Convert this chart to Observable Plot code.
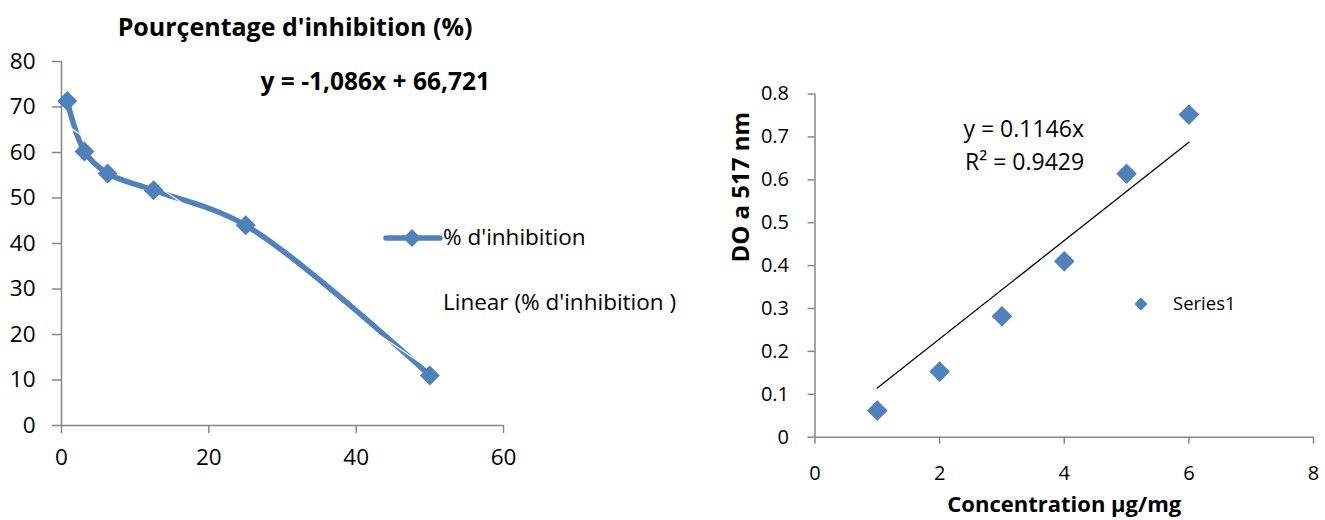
<!DOCTYPE html>
<html><head><meta charset="utf-8">
<script src="https://cdn.jsdelivr.net/npm/d3@7"></script>
<script src="https://cdn.jsdelivr.net/npm/@observablehq/plot@0.6"></script>
<style>
body{margin:0;background:#fff;font-family:"Open Sans",sans-serif;}
#wrap{position:relative;width:1325px;height:520px;overflow:hidden;background:#fff;}
.abs{position:absolute;white-space:nowrap;line-height:1;color:#000;}
</style></head>
<body><div id="wrap"></div>
<script>
// ---- Left chart: % inhibition ----
const inhibConc = [0.78, 3.125, 6.25, 12.5, 25, 50];
const inhibPct  = [71.3, 60.2, 55.4, 51.7, 44.0, 11.0];
const inhibXTicks = [0, 20, 40, 60];
const inhibYTicks = [0, 10, 20, 30, 40, 50, 60, 70, 80];
const inhibTitle = "Pourçentage d'inhibition (%)";
const inhibEquation = "y = -1,086x + 66,721";
const inhibSlope = -1.086, inhibIntercept = 66.721;
const inhibLegend = ["% d'inhibition", "Linear (% d'inhibition )"];

// ---- Right chart: DO at 517 nm ----
const doConc = [1, 2, 3, 4, 5, 6];
const doAbs  = [0.062, 0.153, 0.282, 0.410, 0.614, 0.752];
const doXTicks = [0, 2, 4, 6, 8];
const doYTicks = [0, 0.1, 0.2, 0.3, 0.4, 0.5, 0.6, 0.7, 0.8];
const doSlope = 0.1146;
const doEqLines = ["y = 0.1146x", "R² = 0.9429"];
const doXLabel = "Concentration µg/mg";
const doYLabel = "DO a 517 nm";
const doLegend = "Series1";

const blue = "#4f81bd", axisGray = "#868686";
const font = "'Open Sans', sans-serif";
const wrap = document.getElementById("wrap");

const inhib = inhibConc.map((x, i) => ({x, y: inhibPct[i]}));
const inhibTrend = [inhibConc[0], inhibConc[inhibConc.length-1]].map(x => ({x, y: inhibSlope*x + inhibIntercept}));

const left = Plot.plot({
  width: 520, height: 520,
  marginLeft: 61, marginRight: 17, marginTop: 61, marginBottom: 95,
  style: {fontFamily: font, fontSize: "22.5px", background: "transparent", color: "#000", overflow: "visible"},
  x: {domain: [0, 60]},
  y: {domain: [0, 80]},
  marks: [
    Plot.axisX({ticks: inhibXTicks, tickSize: 8, tickPadding: 16, label: null, stroke: axisGray, strokeWidth: 1.5, fill: "#000"}),
    Plot.axisY({ticks: inhibYTicks, tickSize: 9, tickPadding: 17, label: null, stroke: axisGray, strokeWidth: 1.5, fill: "#000"}),
    Plot.ruleX([0], {stroke: axisGray, strokeWidth: 1.5}),
    Plot.ruleY([0], {stroke: axisGray, strokeWidth: 1.5}),
    Plot.line(inhib, {x: "x", y: "y", stroke: blue, strokeWidth: 5.5, curve: "catmull-rom"}),
    Plot.line(inhibTrend, {x: "x", y: "y", stroke: "#fff", strokeWidth: 1.2}),
    Plot.dot(inhib, {x: "x", y: "y", symbol: "diamond2", r: 9, fill: blue, stroke: "none"}),
    Plot.text([inhibEquation], {frameAnchor: "top-left", textAnchor: "start", dx: 199, dy: 11, fontWeight: "bold", fontSize: 24.5})
  ]
});
left.style.position = "absolute"; left.style.left = "0px"; left.style.top = "0px";
wrap.appendChild(left);

const doData = doConc.map((x, i) => ({x, y: doAbs[i]}));
const doTrend = [doConc[0], doConc[doConc.length-1]].map(x => ({x, y: doSlope*x}));

const right = Plot.plot({
  width: 625, height: 520,
  marginLeft: 114.5, marginRight: 12, marginTop: 93.5, marginBottom: 83.3,
  style: {fontFamily: font, fontSize: "20px", background: "transparent", color: "#000", overflow: "visible"},
  x: {domain: [0, 8]},
  y: {domain: [0, 0.8]},
  marks: [
    Plot.axisX({ticks: doXTicks, tickSize: 7, tickPadding: 22, label: null, stroke: axisGray, strokeWidth: 1.5, fill: "#000"}),
    Plot.axisY({ticks: doYTicks, tickSize: 7, tickPadding: 19, label: null, tickFormat: d => d === 0 ? "0" : d3.format(".1f")(d), stroke: axisGray, strokeWidth: 1.5, fill: "#000"}),
    Plot.ruleX([0], {stroke: axisGray, strokeWidth: 1.5}),
    Plot.ruleY([0], {stroke: axisGray, strokeWidth: 1.5}),
    Plot.line(doTrend, {x: "x", y: "y", stroke: "#000", strokeWidth: 1.3}),
    Plot.dot(doData, {x: "x", y: "y", symbol: "diamond2", r: 9.3, fill: blue, stroke: "none"}),
    Plot.text([doEqLines[0]], {frameAnchor: "top-left", textAnchor: "start", lineAnchor: "bottom", dx: 148.5, dy: 42.5, fontSize: 23}),
    Plot.text([doEqLines[1]], {frameAnchor: "top-left", textAnchor: "start", lineAnchor: "bottom", dx: 150, dy: 75.5, fontSize: 23}),
    Plot.text([doYLabel], {frameAnchor: "left", rotate: -90, dx: -73.5, dy: -3, fontWeight: "bold", fontSize: 24}),
    Plot.text([doXLabel], {frameAnchor: "bottom", dy: 75, fontWeight: "bold", fontSize: 22})
  ]
});
right.style.position = "absolute"; right.style.left = "700px"; right.style.top = "0px";
wrap.appendChild(right);

// Left title
const t = document.createElement("div");
t.className = "abs"; t.textContent = inhibTitle;
Object.assign(t.style, {left: "0px", width: "590px", textAlign: "center", top: "14px", fontSize: "25px", fontWeight: "bold"});
wrap.appendChild(t);

// Left legend
const lg = d3.create("svg").attr("width", 62).attr("height", 24)
  .style("position", "absolute").style("left", "382px").style("top", "226px");
lg.append("line").attr("x1", 4).attr("x2", 58).attr("y1", 12).attr("y2", 12).attr("stroke", blue).attr("stroke-width", 5.5).attr("stroke-linecap", "round");
lg.append("path").attr("d", "M30,3 L39,12 L30,21 L21,12 Z").attr("fill", blue);
wrap.appendChild(lg.node());
inhibLegend.forEach((s, i) => {
  const d = document.createElement("div");
  d.className = "abs"; d.textContent = s;
  Object.assign(d.style, {left: "443px", top: (i === 0 ? 226 : 291) + "px", fontSize: "22.5px"});
  wrap.appendChild(d);
});

// Right legend
const rg = d3.create("svg").attr("width", 16).attr("height", 16)
  .style("position", "absolute").style("left", "1133px").style("top", "296px");
rg.append("path").attr("d", "M8,1.5 L14.5,8 L8,14.5 L1.5,8 Z").attr("fill", blue);
wrap.appendChild(rg.node());
const rl = document.createElement("div");
rl.className = "abs"; rl.textContent = doLegend;
Object.assign(rl.style, {left: "1173px", top: "294px", fontSize: "18.5px"});
wrap.appendChild(rl);
</script></body></html>
